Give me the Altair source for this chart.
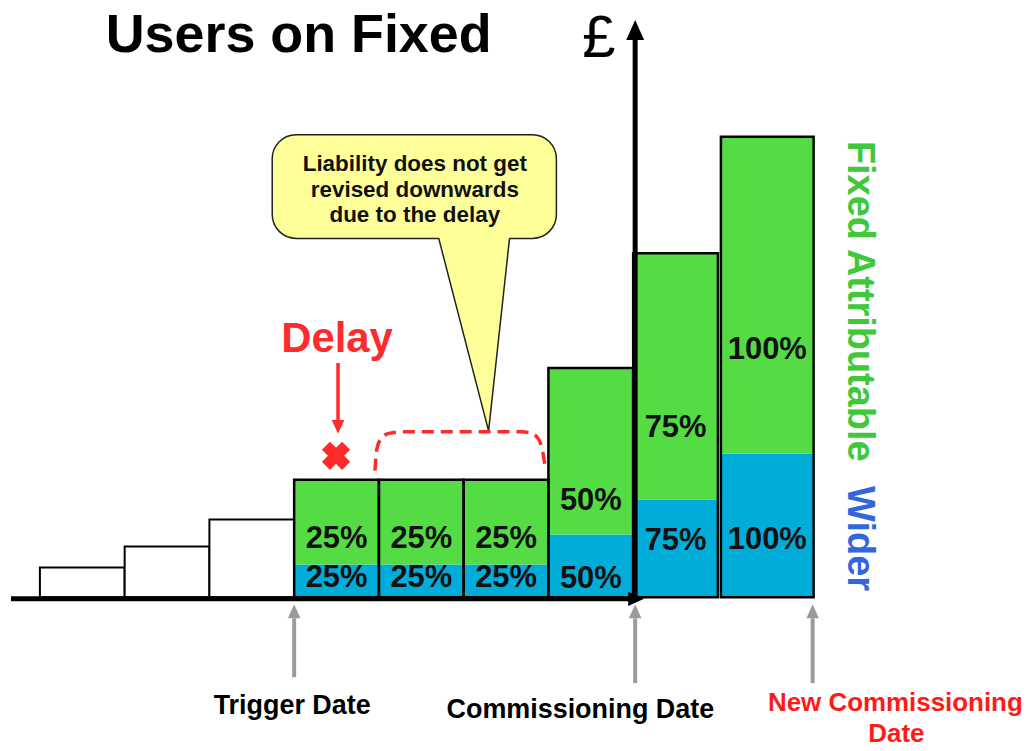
import altair as alt
import pandas as pd

# ---------------- data ----------------
PRE_TRIGGER = [3.0, 5.1, 7.8]                      # liability before the trigger date (white bars)
WIDER = [3.3, 3.3, 3.3, 6.3, 9.8, 14.4]            # "Wider" part of each bar (blue)
FIXED = [8.5, 8.5, 8.5, 16.7, 24.7, 31.8]          # "Fixed Attributable" part (green)
WIDER_PCT = ["25%", "25%", "25%", "50%", "75%", "100%"]
FIXED_PCT = ["25%", "25%", "25%", "50%", "75%", "100%"]
CALLOUT_LINES = ["Liability does not get", "revised downwards", "due to the delay"]
MILESTONES = ["Trigger Date", "Commissioning Date", "New Commissioning", "Date"]

# ---------------- layout ----------------
W, H = 1020, 735
FONT = "Liberation Sans"
GREEN, BLUE = "#55dc44", "#00acd8"
RED = "#ff2a2a"
GREY = "#9b9b9b"


def X(px):
    return (px - 37) / 85.0


def Y(py):
    return (597 - py) / 10.0


xs = alt.Scale(domain=[X(8), X(8 + W)], nice=False, zero=False)
ys = alt.Scale(domain=[Y(8 + H), Y(8)], nice=False, zero=False)


def enc(x="x", y="y", x2=None, y2=None, **kw):
    e = dict(x=alt.X(f"{x}:Q", scale=xs, axis=None), y=alt.Y(f"{y}:Q", scale=ys, axis=None))
    if x2:
        e["x2"] = f"{x2}:Q"
    if y2:
        e["y2"] = f"{y2}:Q"
    e.update(kw)
    return e


# bars
white = pd.DataFrame({
    "x0": [i for i in range(len(PRE_TRIGGER))],
    "x1": [i + 1 for i in range(len(PRE_TRIGGER))],
    "y0": [0.0] * len(PRE_TRIGGER),
    "y1": PRE_TRIGGER,
})
n = len(WIDER)
x0 = [3 + j for j in range(n)]
x1 = [4 + j for j in range(n)]
x0[-1], x1[-1] = X(720), X(813)
col = pd.DataFrame({
    "x0": x0, "x1": x1,
    "zero": [0.0] * n,
    "wider": WIDER,
    "total": [w + f for w, f in zip(WIDER, FIXED)],
    "xc": [(a + b) / 2 for a, b in zip(x0, x1)],
    "fl": FIXED_PCT, "wl": WIDER_PCT,
    "fy": [Y(p) for p in [539, 539, 539, 500, 427, 349]],
    "wy": [Y(p) for p in [578, 578, 578, 579, 541, 540]],
})

layers = []
layers.append(alt.Chart(white).mark_rect(fill="white", stroke="black", strokeWidth=2)
              .encode(**enc("x0", "y0", "x1", "y1")))
layers.append(alt.Chart(col).mark_rect(fill=BLUE).encode(**enc("x0", "zero", "x1", "wider")))
layers.append(alt.Chart(col).mark_rect(fill=GREEN).encode(**enc("x0", "wider", "x1", "total")))
layers.append(alt.Chart(col).mark_rect(fillOpacity=0, stroke="black", strokeWidth=2.5)
              .encode(**enc("x0", "zero", "x1", "total")))
layers.append(alt.Chart(col).mark_text(font=FONT, fontSize=31, fontWeight="bold", color="#111",
                                       align="center", baseline="middle")
              .encode(**enc("xc", "fy"), text="fl:N"))
layers.append(alt.Chart(col).mark_text(font=FONT, fontSize=31, fontWeight="bold", color="#111",
                                       align="center", baseline="middle")
              .encode(**enc("xc", "wy"), text="wl:N"))


def df(**cols):
    return pd.DataFrame(cols)


def rule(px0, py0, px1, py1, color, width):
    d = df(x=[X(px0)], y=[Y(py0)], x2=[X(px1)], y2=[Y(py1)])
    return alt.Chart(d).mark_rule(color=color, strokeWidth=width).encode(**enc("x", "y", "x2", "y2"))


ARROW = "M0,-1L-0.9,1L0.9,1Z"


def head(px, py, size, angle, color):
    d = df(x=[X(px)], y=[Y(py)])
    return alt.Chart(d).mark_point(shape=ARROW, filled=True, size=size, angle=angle, color=color,
                                   opacity=1, strokeWidth=0).encode(**enc())


def text(t, px, py, size, color="black", weight="bold", align="center", baseline="alphabetic", angle=0):
    d = df(x=[X(px)], y=[Y(py)], t=[t])
    return alt.Chart(d).mark_text(font=FONT, fontSize=size, fontWeight=weight, color=color,
                                  align=align, baseline=baseline, angle=angle).encode(**enc(), text="t:N")


# axes
layers.append(rule(8, 598.5, 632, 598.5, "black", 5))
layers.append(head(635, 598.5, 256, 90, "black"))
layers.append(rule(634, 599, 634, 36, "black", 5))
layers.append(head(634, 28, 400, 0, "black"))

# callout
box = df(x=[X(270)], y=[Y(133)], x2=[X(555)], y2=[Y(237)])
layers.append(alt.Chart(box).mark_rect(fill="#ffff99", stroke="#222", strokeWidth=1.5, cornerRadius=24)
              .encode(**enc("x", "y", "x2", "y2")))
tri = df(x=[X(437), X(487), X(508)], y=[Y(235), Y(430), Y(235)], y2=[Y(235)] * 3)
layers.append(alt.Chart(tri).mark_area(fill="#ffff99", stroke=None).encode(**enc(y2="y2")))
ptr = df(x=[X(437), X(487), X(508)], y=[Y(237), Y(430), Y(237)])
layers.append(alt.Chart(ptr).mark_line(color="#222", strokeWidth=1.5).encode(**enc()))
for k, (ln, py) in enumerate(zip(CALLOUT_LINES, [169, 195, 221])):
    layers.append(text(ln, 413, py, 22.5, color="#111"))

# dashed bracket
br_x = [373, 375, 379, 387, 400, 520, 531, 538, 541.5, 544]
br_y = [470, 448, 438, 432.5, 431, 431, 433, 440, 452, 468]
br = df(x=[X(v) for v in br_x], y=[Y(v) for v in br_y])
layers.append(alt.Chart(br).mark_line(color=RED, strokeWidth=3.5, strokeDash=[12, 7], interpolate="monotone")
              .encode(**enc()))

# delay
layers.append(text("Delay", 335, 351, 42, color=RED))
layers.append(rule(336, 362, 336, 424, RED, 3.5))
layers.append(head(336, 426, 196, 180, RED))
xmark = df(x=[X(334)], y=[Y(455)])
layers.append(alt.Chart(xmark).mark_point(shape="cross", angle=45, filled=True, size=820, color=RED,
                                          opacity=1, strokeWidth=0).encode(**enc()))

# title and currency
layers.append(text("Users on Fixed", 103, 50, 54, align="left"))
layers.append(text("£", 581, 55, 60, weight="normal", align="left"))

# vertical legend words
layers.append(text("Fixed Attributable", 858, 300, 38, color="#3ec83a", baseline="middle", angle=90))
layers.append(text("Wider", 858, 538, 38, color="#3366dd", baseline="middle", angle=90))

# milestone arrows
for px, bottom in [(292, 677), (634, 683), (812, 683)]:
    layers.append(rule(px, bottom, px, 618, GREY, 4))
    layers.append(head(px, 611, 196, 0, GREY))

layers.append(text(MILESTONES[0], 290, 714, 27))
layers.append(text(MILESTONES[1], 579, 718, 27))
layers.append(text(MILESTONES[2], 895, 711, 26, color="#ff1a1a"))
layers.append(text(MILESTONES[3], 896, 742, 26, color="#ff1a1a"))

chart = alt.layer(*layers).properties(width=W, height=H, padding=0).configure_view(stroke=None)
chart.save("out.html", embed_options={"renderer": "svg", "actions": False})
